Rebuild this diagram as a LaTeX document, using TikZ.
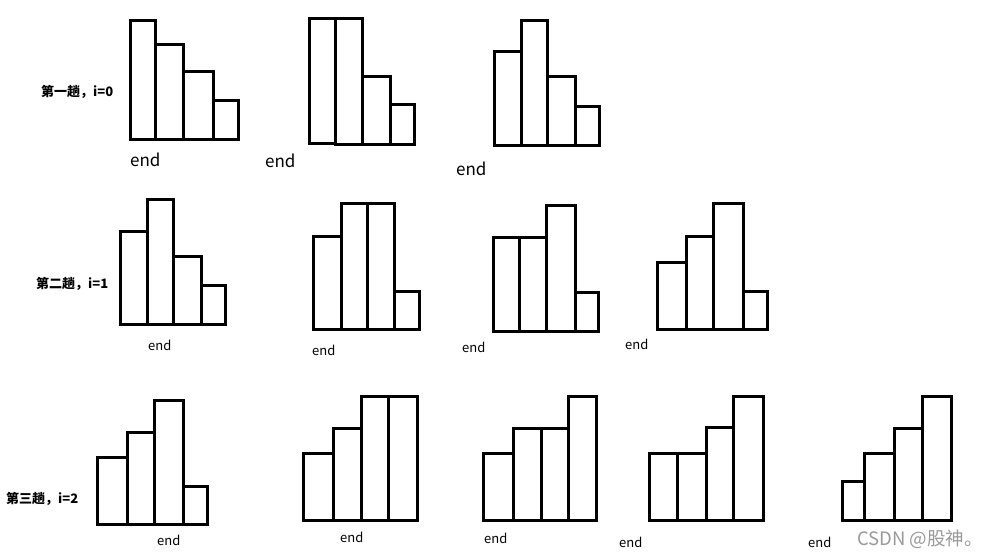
\documentclass[tikz,border=0pt]{standalone}
\usepackage{fontspec}
\setmainfont{Noto Sans CJK SC}
\begin{document}
\begin{tikzpicture}[x=1pt,y=-1pt,
  bar/.style={draw=black,fill=white,line width=3pt},
  endbig/.style={anchor=base west,inner sep=0pt,font=\fontsize{17}{17}\selectfont},
  endsmall/.style={anchor=base west,inner sep=0pt,font=\fontsize{13}{13}\selectfont},
  passlabel/.style={anchor=base west,inner sep=0pt,font=\fontsize{13}{13}\selectfont\bfseries},
  wmark/.style={anchor=base west,inner sep=0pt,text=black!40,font=\fontsize{18.5}{18.5}\selectfont}]
\useasboundingbox (0,0) rectangle (990,556);
% Row 1
\node[passlabel] (l1) at (41,97) {第一趟，i=0};
\draw[bar] (130,21) rectangle (155,140);
\draw[bar] (155,45) rectangle (183,140);
\draw[bar] (183,72) rectangle (213,140);
\draw[bar] (213,101) rectangle (238,140);
\node[endbig] (e11) at (130,167) {end};
\draw[bar] (309,19) rectangle (335,144);
\draw[bar] (335,19) rectangle (362,145);
\draw[bar] (362,77) rectangle (390,145);
\draw[bar] (390,105) rectangle (414,145);
\node[endbig] (e12) at (265,168) {end};
\draw[bar] (494,52) rectangle (521,146);
\draw[bar] (521,21) rectangle (547,146);
\draw[bar] (547,77) rectangle (575,146);
\draw[bar] (575,107) rectangle (599,146);
\node[endbig] (e13) at (456,176) {end};
% Row 2
\node[passlabel] (l2) at (36,288) {第二趟，i=1};
\draw[bar] (120,231) rectangle (147,324);
\draw[bar] (147,200) rectangle (173,324);
\draw[bar] (173,256) rectangle (201,324);
\draw[bar] (201,285) rectangle (225,324);
\node[endsmall] (e21) at (148,350) {end};
\draw[bar] (313,236) rectangle (341,329);
\draw[bar] (341,204) rectangle (367,329);
\draw[bar] (367,204) rectangle (394,329);
\draw[bar] (394,291) rectangle (419,329);
\node[endsmall] (e22) at (312,355) {end};
\draw[bar] (493,237) rectangle (519,331);
\draw[bar] (519,237) rectangle (546,331);
\draw[bar] (546,206) rectangle (575,331);
\draw[bar] (575,292) rectangle (598,331);
\node[endsmall] (e23) at (462,352) {end};
\draw[bar] (657,262) rectangle (686,329);
\draw[bar] (686,236) rectangle (713,329);
\draw[bar] (713,204) rectangle (743,329);
\draw[bar] (743,291) rectangle (767,329);
\node[endsmall] (e24) at (625,349) {end};
% Row 3
\node[passlabel] (l3) at (6,503) {第三趟，i=2};
\draw[bar] (97,457) rectangle (127,524);
\draw[bar] (127,432) rectangle (154,524);
\draw[bar] (154,400) rectangle (183,524);
\draw[bar] (183,486) rectangle (207,524);
\node[endsmall] (e31) at (157,545) {end};
\draw[bar] (303,453) rectangle (333,520);
\draw[bar] (333,428) rectangle (361,520);
\draw[bar] (361,396) rectangle (388,520);
\draw[bar] (388,396) rectangle (417,520);
\node[endsmall] (e32) at (340,542) {end};
\draw[bar] (483,453) rectangle (513,520);
\draw[bar] (513,428) rectangle (541,520);
\draw[bar] (541,428) rectangle (568,520);
\draw[bar] (568,396) rectangle (596,520);
\node[endsmall] (e33) at (484,543) {end};
\draw[bar] (649,453) rectangle (677,520);
\draw[bar] (677,453) rectangle (706,520);
\draw[bar] (706,427) rectangle (733,520);
\draw[bar] (733,396) rectangle (763,520);
\node[endsmall] (e34) at (619,547) {end};
\draw[bar] (842,481) rectangle (864,520);
\draw[bar] (864,453) rectangle (894,520);
\draw[bar] (894,428) rectangle (922,520);
\draw[bar] (922,396) rectangle (951,520);
\node[endsmall] (e35) at (808,547) {end};
\node[wmark] (wm) at (857,545) {CSDN @股神。};
\end{tikzpicture}
\end{document}
